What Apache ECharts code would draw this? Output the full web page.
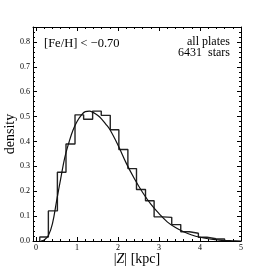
<!DOCTYPE html>
<html>
<head>
<meta charset="utf-8">
<script src="https://cdn.jsdelivr.net/npm/echarts@6/dist/echarts.min.js"></script>
<style>
html,body{margin:0;padding:0;background:#fff;}
#c{width:268px;height:268px;}
</style>
</head>
<body>
<div id="c"></div>
<script>
// Histogram bin edges (kpc) and densities
const binEdges = [0.09,0.30,0.52,0.73,0.95,1.16,1.38,1.59,1.81,2.02,2.24,2.45,2.67,2.88,3.10,3.31,3.53,3.74,3.96,4.17,4.39,4.60];
const binValues = [0.016,0.121,0.276,0.390,0.507,0.489,0.522,0.505,0.447,0.368,0.291,0.207,0.162,0.097,0.095,0.066,0.037,0.031,0.015,0.009,0.008];

// Fitted curve
const curveX = [0.12,0.2,0.3,0.4,0.5,0.6,0.7,0.8,0.9,1.0,1.1,1.2,1.3,1.4,1.5,1.6,1.7,1.8,2.0,2.2,2.4,2.6,2.8,3.0,3.2,3.4,3.6,3.8,4.0,4.2,4.4,4.6,4.8,5.0];
const curveY = [0.0,0.004,0.022,0.07,0.16,0.25,0.335,0.395,0.445,0.48,0.505,0.52,0.522,0.516,0.505,0.49,0.47,0.448,0.385,0.313,0.25,0.195,0.148,0.11,0.077,0.054,0.037,0.024,0.015,0.009,0.005,0.002,0.001,0.0];

// Tick values
const xMajor = [0,1,2,3,4,5];
const xMinor = [0.2,0.4,0.6,0.8,1.2,1.4,1.6,1.8,2.2,2.4,2.6,2.8,3.2,3.4,3.6,3.8,4.2,4.4,4.6,4.8];
const yMajor = [0,0.1,0.2,0.3,0.4,0.5,0.6,0.7,0.8];
const yMinor = [];
for (let i = 1; i < 43; i++) { if (i % 5 !== 0) yMinor.push(+(i*0.02).toFixed(2)); }

const FONT = 'Liberation Serif';
const XMIN = -0.075, XMAX = 5, YMIN = 0, YMAX = 0.86;

const histData = [[binEdges[0], 0]];
for (let i = 0; i < binValues.length; i++) {
  histData.push([binEdges[i], binValues[i]]);
  histData.push([binEdges[i+1], binValues[i]]);
}
histData.push([binEdges[binEdges.length-1], 0]);
const curveData = curveX.map((x, i) => [x, curveY[i]]);

const lineStyle = {color:'#000', width:1};
function xAx(pos, ticks, len, showLine, labels) {
  return {
    type:'value', position:pos, min:XMIN, max:XMAX,
    axisLine:{show:showLine, onZero:false, lineStyle},
    axisTick:{show:true, inside:true, length:len, customValues:ticks, lineStyle},
    axisLabel: labels ? {show:true, customValues:xMajor, fontFamily:FONT, fontSize:8, color:'#000', margin:3} : {show:false},
    splitLine:{show:false}
  };
}
function yAx(pos, ticks, len, showLine, labels) {
  return {
    type:'value', position:pos, min:YMIN, max:YMAX,
    axisLine:{show:showLine, onZero:false, lineStyle},
    axisTick:{show:true, inside:true, length:len, customValues:ticks, lineStyle},
    axisLabel: labels ? {show:true, customValues:yMajor, fontFamily:FONT, fontSize:8, color:'#000', margin:3, formatter:v=>v.toFixed(1)} : {show:false},
    splitLine:{show:false}
  };
}

const xAxes = [xAx('bottom', xMajor, 4, true, true), xAx('bottom', xMinor, 2, false, false), xAx('top', xMajor, 4, true, false), xAx('top', xMinor, 2, false, false)];
xAxes[0].name = '{n||}{i|Z}{n|| [kpc]}';
xAxes[0].nameLocation = 'middle';
xAxes[0].nameGap = 11;
xAxes[0].nameMoveOverlap = false;
xAxes[0].nameTextStyle = {rich:{n:{fontFamily:FONT,fontSize:14,color:'#000'}, i:{fontFamily:FONT,fontSize:14,fontStyle:'italic',color:'#000'}}};
const yAxes = [yAx('left', yMajor, 4, true, true), yAx('left', yMinor, 2, false, false), yAx('right', yMajor, 4, true, false), yAx('right', yMinor, 2, false, false)];
yAxes[0].name = 'density';
yAxes[0].nameLocation = 'middle';
yAxes[0].nameGap = 16;
yAxes[0].nameMoveOverlap = false;
yAxes[0].nameTextStyle = {fontFamily:FONT, fontSize:14, color:'#000'};

const chart = echarts.init(document.getElementById('c'), null, {renderer:'canvas'});
chart.setOption({
  animation:false,
  backgroundColor:'#fff',
  grid:{left:33, right:27, top:27, bottom:27, containLabel:false, outerBoundsMode:'none'},
  xAxis:xAxes,
  yAxis:yAxes,
  series:[
    {type:'line', data:histData, xAxisIndex:0, yAxisIndex:0, symbol:'none', lineStyle:{color:'#222', width:1.4}},
    {type:'line', data:curveData, xAxisIndex:0, yAxisIndex:0, symbol:'none', smooth:0.4, lineStyle:{color:'#111', width:1.2}}
  ],
  graphic:[
    {type:'text', left:44, top:37, style:{text:'[Fe/H] < \u22120.70', fontFamily:FONT, fontSize:12.5, fill:'#000'}},
    {type:'text', right:38, top:36, style:{text:'all plates', fontFamily:FONT, fontSize:12, fill:'#000', align:'right'}},
    {type:'text', right:38, top:47, style:{text:'6431  stars', fontFamily:FONT, fontSize:12, fill:'#000', align:'right'}}
  ]
});
</script>
</body>
</html>
